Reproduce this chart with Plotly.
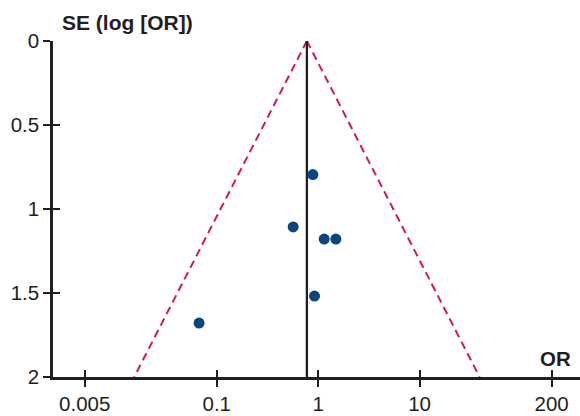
import numpy as np
import plotly.graph_objects as go

# Study estimates: odds ratio and standard error of log(OR)
study_or = [0.887, 0.567, 1.146, 1.494, 0.920, 0.067]
study_se = [0.795, 1.107, 1.179, 1.179, 1.518, 1.679]

# Pooled estimate (centre of the funnel)
pooled_or = 0.774
se_limits = [0.0, 2.0]

# Axis ticks
x_ticks = [0.005, 0.1, 1, 10, 200]
x_tick_text = ["0.005", "0.1", "1", "10", "200"]
y_ticks = [0, 0.5, 1, 1.5, 2]
y_tick_text = ["0", "0.5", "1", "1.5", "2"]

INK = "#231f20"
RED = "#d41b4b"
BLUE = "#074682"
FONT = "Liberation Sans, Arial, sans-serif"
TICK_SIZE = 20.5

# 95% pseudo-confidence limits of the funnel
left_or = [pooled_or * np.exp(-1.96 * s) for s in se_limits]
right_or = [pooled_or * np.exp(1.96 * s) for s in se_limits]

fig = go.Figure()

fig.add_trace(go.Scatter(
    x=left_or, y=se_limits, mode="lines",
    line=dict(color=RED, width=2, dash="8px,5px"), hoverinfo="skip",
))
fig.add_trace(go.Scatter(
    x=right_or, y=se_limits, mode="lines",
    line=dict(color=RED, width=2, dash="8px,5px"), hoverinfo="skip",
))
fig.add_trace(go.Scatter(
    x=[pooled_or, pooled_or], y=se_limits, mode="lines",
    line=dict(color=INK, width=2.3), hoverinfo="skip",
))
fig.add_trace(go.Scatter(
    x=study_or, y=study_se, mode="markers",
    marker=dict(color=BLUE, size=11, line=dict(width=0)),
))
# Invisible trace that carries the overlay axes (inner half of the tick marks)
fig.add_trace(go.Scatter(
    x=[1], y=[1], xaxis="x2", yaxis="y2", mode="markers",
    marker=dict(opacity=0), hoverinfo="skip",
))

x_range = [-2.614, 2.581]
y_range = [2, 0]

fig.update_layout(
    width=580, height=416,
    margin=dict(l=53, r=0, t=41, b=39),
    paper_bgcolor="white", plot_bgcolor="white",
    showlegend=False,
    font=dict(family=FONT, color=INK, size=TICK_SIZE),
    xaxis=dict(
        type="log", range=x_range, tickvals=x_ticks, ticktext=x_tick_text,
        showgrid=False, zeroline=False, showline=True, linecolor=INK, linewidth=2.5,
        ticks="outside", ticklen=7, tickwidth=2.3, tickcolor=INK,
        tickfont=dict(size=TICK_SIZE, color=INK, family=FONT),
    ),
    yaxis=dict(
        range=y_range, tickvals=y_ticks, ticktext=y_tick_text,
        showgrid=False, zeroline=False, showline=True, linecolor=INK, linewidth=2.5,
        ticks="outside", ticklen=7, tickwidth=2.3, tickcolor=INK,
        tickfont=dict(size=TICK_SIZE, color=INK, family=FONT),
    ),
    xaxis2=dict(
        type="log", range=x_range, overlaying="x", anchor="y2", side="bottom",
        tickvals=x_ticks, showticklabels=False, showgrid=False, zeroline=False,
        showline=False, ticks="inside", ticklen=7, tickwidth=2.3, tickcolor=INK,
    ),
    yaxis2=dict(
        range=y_range, overlaying="y", anchor="x2", side="left",
        tickvals=y_ticks, showticklabels=False, showgrid=False, zeroline=False,
        showline=False, ticks="inside", ticklen=7, tickwidth=2.3, tickcolor=INK,
    ),
    annotations=[
        dict(text="<b>SE (log [OR])</b>", xref="paper", yref="paper",
             x=(60 - 53) / 527, y=1 + (41 - 22.7) / 336,
             xanchor="left", yanchor="middle", showarrow=False,
             font=dict(size=21, color=INK, family=FONT)),
        dict(text="<b>OR</b>", xref="paper", yref="paper",
             x=(573 - 53) / 527, y=(377 - 358.3) / 336,
             xanchor="right", yanchor="middle", showarrow=False,
             font=dict(size=20.5, color=INK, family=FONT)),
    ],
)

fig.write_html("out.html")
